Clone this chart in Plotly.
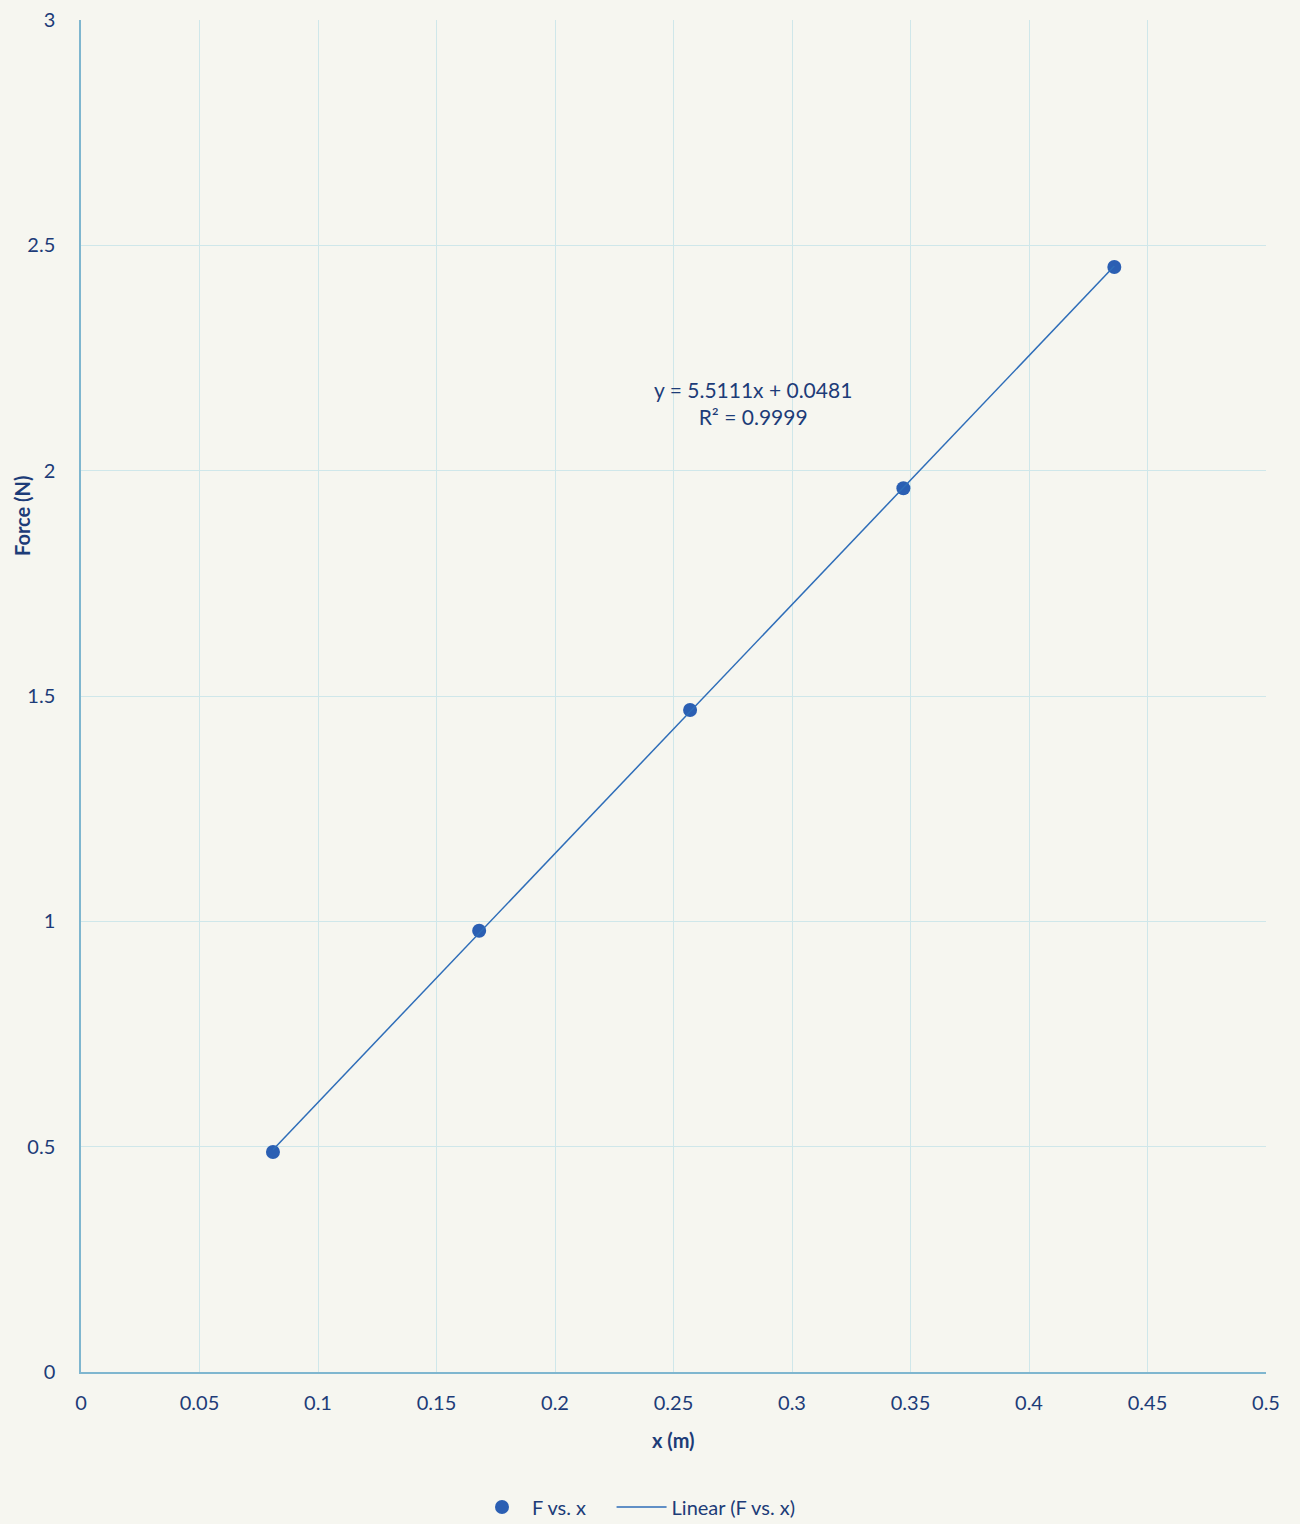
import numpy as np
import plotly.graph_objects as go

x_m = [0.081, 0.168, 0.257, 0.347, 0.436]
force_n = [0.488, 0.979, 1.469, 1.961, 2.452]
x_ticks = [0, 0.05, 0.1, 0.15, 0.2, 0.25, 0.3, 0.35, 0.4, 0.45, 0.5]
x_tick_labels = ["0", "0.05", "0.1", "0.15", "0.2", "0.25", "0.3", "0.35", "0.4", "0.45", "0.5"]
y_ticks = [0, 0.5, 1, 1.5, 2, 2.5, 3]
y_tick_labels = ["0", "0.5", "1", "1.5", "2", "2.5", "3"]
eq_text = "y = 5.5111x + 0.0481<br>R² = 0.9999"
series_name = "F vs. x"
fit_name = "Linear (F vs. x)"

slope, intercept = np.polyfit(x_m, force_n, 1)
fit_x = [min(x_m), max(x_m)]
fit_y = [slope * v + intercept for v in fit_x]

font_family = "Lato, 'Open Sans', sans-serif"
text_color = "#1d3c78"
marker_color = "#2b5fb3"
line_color = "#2e6db8"
paper = "#f6f6f0"
grid = "#cfe7ea"

fig = go.Figure()
fig.add_trace(go.Scatter(x=x_m, y=force_n, mode="markers",
                         name=series_name + "\u00a0\u00a0\u00a0\u00a0",
                         marker=dict(color=marker_color, size=14)))
fig.add_trace(go.Scatter(x=fit_x, y=fit_y, mode="lines", name=fit_name,
                         line=dict(color=line_color, width=1.5)))

fig.add_annotation(x=0.2835, y=2.15, xref="x", yref="y", text=eq_text, showarrow=False,
                   font=dict(family=font_family, size=21, color=text_color), align="center")

plot_left, plot_right = 81, 1266
plot_top, plot_bottom = 20, 1372
plot_w = plot_right - plot_left
plot_h = plot_bottom - plot_top

# axis titles
fig.add_annotation(x=(22 - plot_left) / plot_w, y=(plot_bottom - 516) / plot_h,
                   xref="paper", yref="paper", text="<b>Force (N)</b>",
                   showarrow=False, textangle=-90, xanchor="center", yanchor="middle",
                   font=dict(family=font_family, size=20, color=text_color))
fig.add_annotation(x=0.5, y=(plot_bottom - 1440) / plot_h, xref="paper", yref="paper",
                   text="<b>x (m)</b>", showarrow=False, yanchor="middle",
                   font=dict(family=font_family, size=20, color=text_color))

fig.update_layout(
    width=1300, height=1524,
    paper_bgcolor=paper, plot_bgcolor=paper,
    margin=dict(l=plot_left, r=1300 - plot_right, t=plot_top, b=1524 - plot_bottom, autoexpand=False),
    font=dict(family=font_family, size=20, color=text_color),
    showlegend=True,
    legend=dict(orientation="h", x=(472 - plot_left) / plot_w, xanchor="left",
                y=(plot_bottom - 1507) / plot_h, yanchor="middle", itemwidth=50,
                font=dict(size=20, color=text_color), bgcolor="rgba(0,0,0,0)"),
    xaxis=dict(range=[0, 0.5], tickvals=x_ticks, ticktext=x_tick_labels,
               showgrid=True, gridcolor=grid, gridwidth=1, automargin=False,
               showline=True, linecolor="#7fb6cf", linewidth=1.5, mirror=False,
               zeroline=False, ticks="", ticklabelstandoff=12),
    yaxis=dict(range=[0, 3], tickvals=y_ticks, ticktext=y_tick_labels,
               showgrid=True, gridcolor=grid, gridwidth=1, automargin=False,
               showline=True, linecolor="#7fb6cf", linewidth=1.5,
               zeroline=False, ticks="", ticklabelstandoff=20),
)

fig.write_html("out.html", config={"displayModeBar": False},
               post_script="document.body.style.margin='0';")
